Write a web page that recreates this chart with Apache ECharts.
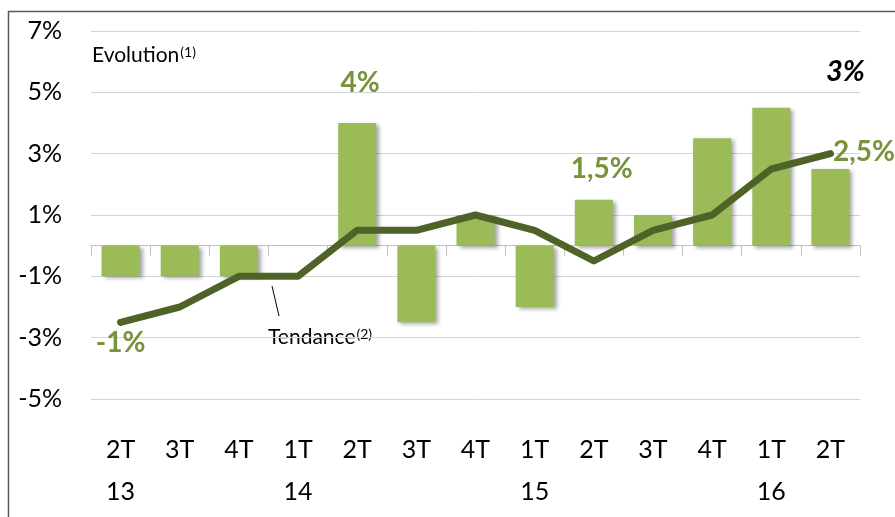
<!DOCTYPE html>
<html>
<head>
<meta charset="utf-8">
<script src="https://cdn.jsdelivr.net/npm/echarts@6/dist/echarts.min.js"></script>
<style>
  html, body { margin: 0; padding: 0; background: #fff; }
  #chart { width: 895px; height: 517px; }
</style>
</head>
<body>
<div id="chart"></div>
<script>
// trimestres
const categories = ['2T\n13', '3T', '4T', '1T\n14', '2T', '3T', '4T', '1T\n15', '2T', '3T', '4T', '1T\n16', '2T']
// evolution (1), en %
const evolution = [-1, -1, -1, 0, 4, -2.5, 1, -2, 1.5, 1, 3.5, 4.5, 2.5]
// tendance (2), en %
const tendance = [-2.5, -2, -1, -1, 0.5, 0.5, 1, 0.5, -0.5, 0.5, 1, 2.5, 3]
// annotations
const barNotes = { 4: '4%', 8: '1,5%' }
const lineNotes = { 0: '-1%', 12: '2,5%' }
const lastNote = '3%'

const font = 'Lato, "Noto Sans", sans-serif'
const green = '#77933c'

const chart = echarts.init(document.getElementById('chart'))

const barData = evolution.map(function (v, i) {
  const item = { value: v }
  if (barNotes[i]) {
    item.label = {
      show: true,
      position: 'top',
      distance: i === 4 ? 26 : 17,
      offset: i === 4 ? [3, 0] : [8, 0],
      formatter: barNotes[i]
    }
  }
  return item
})

const lineData = tendance.map(function (v, i) {
  const item = { value: v }
  if (lineNotes[i]) {
    item.label = i === 0
      ? { show: true, position: 'bottom', distance: 6, formatter: lineNotes[i] }
      : { show: true, position: 'right', distance: 2, offset: [0, -2], formatter: lineNotes[i] }
  }
  return item
})

const noteLabel = {
  show: false,
  color: green,
  fontFamily: font,
  fontWeight: 'bold',
  fontSize: 28
}

const options = {
  animation: false,
  backgroundColor: '#fff',
  grid: { left: 91, right: 35, top: 31, bottom: 118 },
  xAxis: [{
    type: 'category',
    position: 'bottom',
    data: categories,
    axisLine: { show: false, onZero: false },
    axisTick: { show: false },
    axisLabel: {
      color: '#000',
      fontFamily: font,
      fontSize: 25,
      lineHeight: 42,
      margin: 30,
      interval: 0
    }
  }, {
    type: 'category',
    position: 'bottom',
    data: categories,
    axisLine: { show: true, onZero: true, lineStyle: { color: '#bfbfbf', width: 1 } },
    axisTick: { show: true, length: 10, lineStyle: { color: '#bfbfbf' } },
    axisLabel: { show: false }
  }],
  yAxis: {
    type: 'value',
    min: -5,
    max: 7,
    interval: 2,
    axisLine: { show: false },
    axisTick: { show: false },
    splitLine: { lineStyle: { color: '#d4d4d4', width: 1 } },
    axisLabel: {
      formatter: '{value}%',
      color: '#000',
      fontFamily: font,
      fontSize: 25,
      margin: 29,
      padding: [6, 0, 0, 0]
    }
  },
  series: [{
    name: 'Evolution',
    type: 'bar',
    xAxisIndex: 0,
    barWidth: 38,
    data: barData,
    itemStyle: {
      color: '#9bbb59',
      shadowColor: 'rgba(0,0,0,0.35)',
      shadowBlur: 4,
      shadowOffsetX: 3,
      shadowOffsetY: 2
    },
    label: noteLabel,
    z: 2
  }, {
    name: 'Tendance',
    type: 'line',
    xAxisIndex: 0,
    data: lineData,
    symbol: 'circle',
    symbolSize: 1,
    showSymbol: true,
    itemStyle: { color: 'rgba(0,0,0,0)' },
    lineStyle: { color: '#4f6228', width: 7, cap: 'round', join: 'round' },
    label: noteLabel,
    z: 3
  }],
  graphic: [{
    type: 'rect',
    shape: { x: 8.5, y: 11.5, width: 900, height: 520 },
    style: { fill: 'none', stroke: '#595959', lineWidth: 1.5 },
    silent: true
  }, {
    type: 'text',
    left: 92,
    top: 45,
    style: {
      text: '{a|Evolution}{s|(1)}',
      fill: '#000',
      rich: {
        a: { fontFamily: font, fontSize: 21, fill: '#000' },
        s: { fontFamily: font, fontSize: 14, fill: '#000', verticalAlign: 'top', padding: [0, 0, 0, 1] }
      }
    }
  }, {
    type: 'text',
    left: 268,
    top: 327,
    style: {
      text: '{a|Tendance}{s|(2)}',
      fill: '#000',
      rich: {
        a: { fontFamily: font, fontSize: 21, fill: '#000' },
        s: { fontFamily: font, fontSize: 14, fill: '#000', verticalAlign: 'top', padding: [0, 0, 0, 1] }
      }
    }
  }, {
    type: 'line',
    shape: { x1: 272, y1: 286, x2: 279, y2: 316 },
    style: { stroke: '#000', lineWidth: 1 }
  }, {
    type: 'text',
    left: 826,
    top: 57,
    style: {
      text: lastNote,
      fill: '#000',
      font: 'italic bold 29px ' + font
    }
  }]
}

chart.setOption(options)
</script>
</body>
</html>
